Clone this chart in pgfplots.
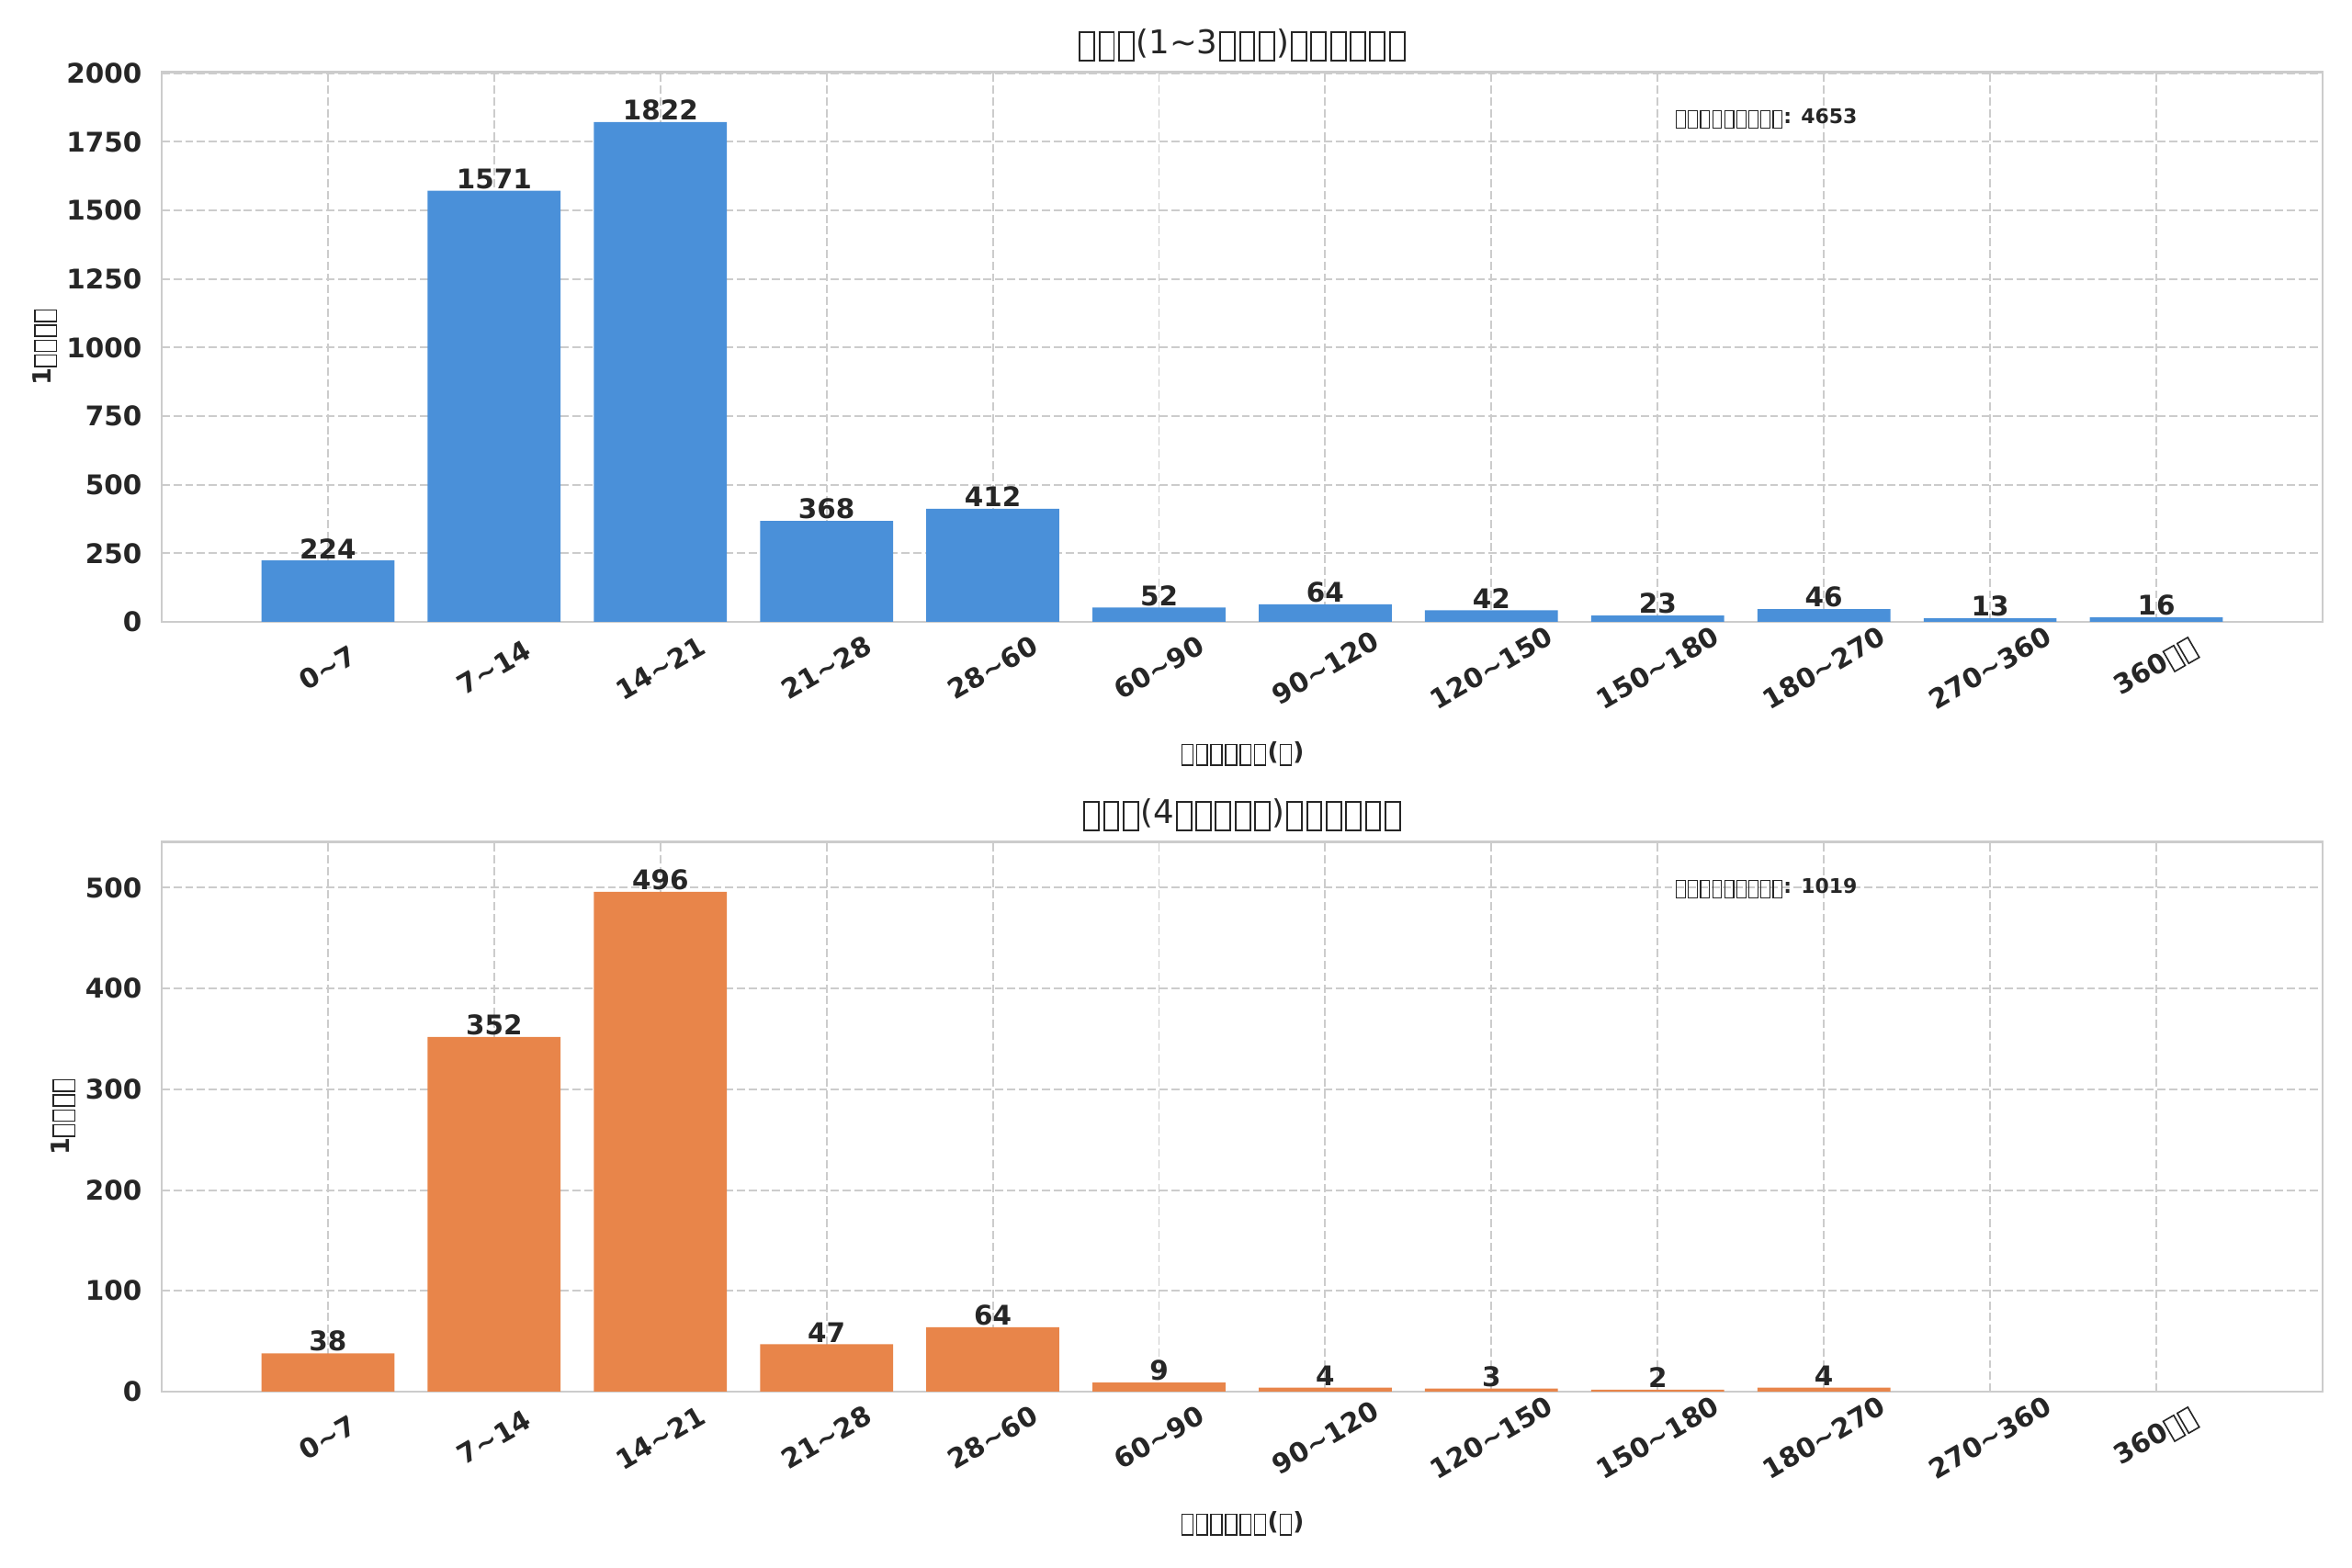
\documentclass[border=0pt]{standalone}
\usepackage{fontspec}
\setmainfont{DejaVu Sans}
\usepackage{pgfplots}
\pgfplotsset{compat=1.18}
\usetikzlibrary{calc}
\newcommand\tf{\mbox{\kern0.05em\raisebox{-0.177em}{\setlength\fboxsep{0pt}\setlength\fboxrule{0.055em}\fbox{\rule{0pt}{0.796em}\rule{0.39em}{0pt}}}\kern0.05em}}
\newcommand\tl{\textasciitilde}
\definecolor{cblue}{HTML}{4A90D9}
\definecolor{corange}{HTML}{E8854A}
\definecolor{txt}{HTML}{262626}
\definecolor{gridc}{HTML}{CCCCCC}
\pgfplotsset{
  /pgf/number format/assume math mode=true,
  /pgf/number format/set thousands separator={},
  mystyle/.style={
    width=846.7pt, height=215.5pt, scale only axis,
    anchor=south west,
    xmin=-1, xmax=12, ymin=0,
    ybar, bar width=0.8,
    xtick={0,...,11},
    xticklabels={0\tl7,7\tl14,14\tl21,21\tl28,28\tl60,60\tl90,90\tl120,120\tl150,150\tl180,180\tl270,270\tl360,360\tf\tf},
    major tick length=0pt,
    ticklabel style={font=\bfseries\fontsize{10.6}{12}\selectfont, text=txt},
    x tick label style={yshift=-18pt, rotate=30, anchor=center},
    y tick label style={anchor=east, inner sep=0pt, xshift=-7.6pt},
    grid=major,
    major grid style={gridc, line width=0.7pt, dash pattern=on 3.2pt off 1.4pt},
    axis line style={gridc, line width=1pt},
    title style={font=\fontsize{12.8}{15}\selectfont, text=txt, at={(axis description cs:0.5,1)}, anchor=center, yshift=4.6pt, inner sep=0pt},
    xlabel style={font=\bfseries\fontsize{9.5}{12}\selectfont, text=txt, at={(axis description cs:0.5,0)}, anchor=center, yshift=-51.8pt, inner sep=0pt},
    xlabel={\tf\tf\tf\tf\tf\tf(\tf)},
    ylabel={1\tf\tf\tf\tf},
    nodes near coords,
    every node near coord/.append style={font=\bfseries\fontsize{10.6}{12}\selectfont, text=txt, anchor=south, inner sep=0pt, yshift=0.5pt},
  }
}
\begin{document}
\begin{tikzpicture}
\begin{axis}[mystyle, at={(63.36pt,370.8pt)},
  ymax=2004.2, ytick={0,250,...,2000},
  title={\tf\tf\tf(1\tl3\tf\tf\tf)\tf\tf\tf\tf\tf\tf},
  ylabel style={font=\bfseries\fontsize{9.8}{12}\selectfont, text=txt, at={($(axis description cs:0,0.5)+(-45.7pt,0)$)}, anchor=center, inner sep=0pt},
]
\addplot[fill=cblue, draw=none] coordinates {
(0,224) (1,1571) (2,1822) (3,368) (4,412) (5,52) (6,64) (7,42) (8,23) (9,46) (10,13) (11,16)};
\node[anchor=west, font=\bfseries\fontsize{7.9}{10}\selectfont, text=txt, inner sep=0pt] at (rel axis cs:0.7,0.915) {\tf\tf\tf\tf\tf\tf\tf\tf\tf: 4653};
\end{axis}
\begin{axis}[mystyle, at={(63.36pt,69.12pt)},
  ymax=545.6, ytick={0,100,...,500},
  title={\tf\tf\tf(4\tf\tf\tf\tf\tf)\tf\tf\tf\tf\tf\tf},
  ylabel style={font=\bfseries\fontsize{9.8}{12}\selectfont, text=txt, at={($(axis description cs:0,0.5)+(-38.5pt,0)$)}, anchor=center, inner sep=0pt},
]
\addplot[fill=corange, draw=none] coordinates {
(0,38) (1,352) (2,496) (3,47) (4,64) (5,9) (6,4) (7,3) (8,2) (9,4)};
\node[anchor=west, font=\bfseries\fontsize{7.9}{10}\selectfont, text=txt, inner sep=0pt] at (rel axis cs:0.7,0.915) {\tf\tf\tf\tf\tf\tf\tf\tf\tf: 1019};
\end{axis}
\pgfresetboundingbox
\path (0,0) rectangle (921.6pt,614.52pt);
\end{tikzpicture}
\end{document}
